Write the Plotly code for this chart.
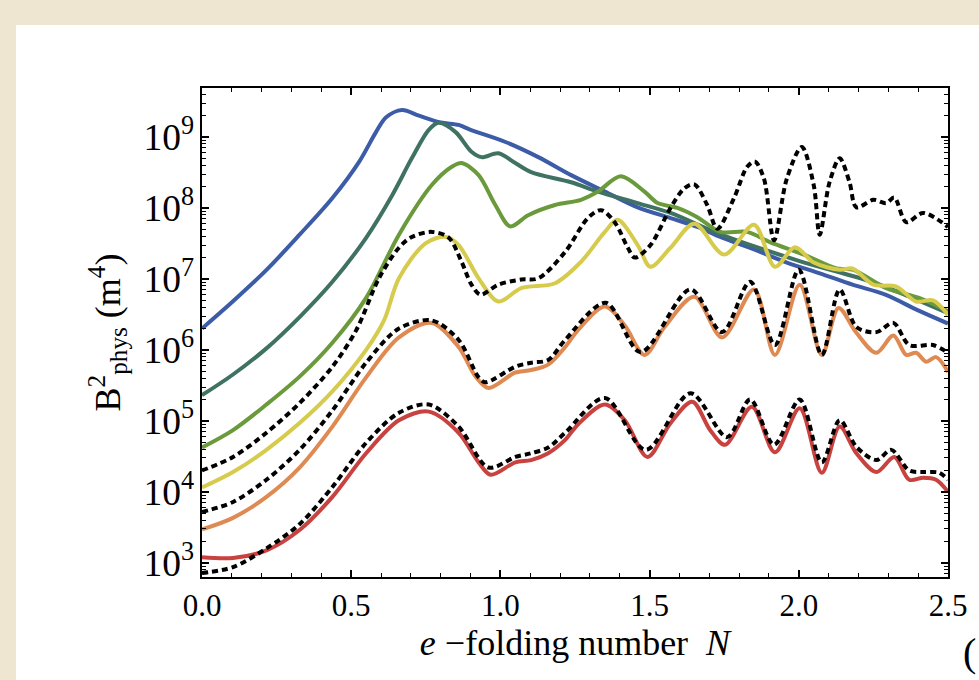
import plotly.graph_objects as go

# ---------------- data ----------------
blue_N = [0, 0.103, 0.217, 0.327, 0.437, 0.527, 0.583, 0.617, 0.67, 0.727, 0.80, 0.86, 0.90, 1.017,
          1.127, 1.237, 1.35, 1.46, 1.57, 1.66, 1.737, 1.85, 1.96, 2.07, 2.18, 2.29, 2.40, 2.5]
blue_B = [2.0e6, 4.8e6, 1.35e7, 4.2e7, 1.38e8, 4.5e8, 1.17e9, 1.9e9, 2.4e9, 2.0e9, 1.6e9, 1.48e9, 1.26e9, 8.5e8,
          5.2e8, 2.9e8, 1.7e8, 1.02e8, 7.2e7, 5.4e7, 3.9e7, 2.6e7, 1.7e7, 1.2e7, 8.3e6, 6.0e6, 3.6e6, 2.35e6]

teal_N = [0, 0.104, 0.216, 0.327, 0.437, 0.55, 0.637, 0.703, 0.76, 0.793, 0.85, 0.903, 0.937, 0.993,
          1.05, 1.103, 1.237, 1.327, 1.46, 1.57, 1.74, 2.0, 2.25, 2.5]
teal_B = [2.3e5, 4.5e5, 1.05e6, 2.9e6, 9.1e6, 3.8e7, 1.5e8, 5.0e8, 1.26e9, 1.58e9, 1.17e9, 6.2e8, 5.2e8, 5.9e8,
          4.3e8, 3.2e8, 2.3e8, 1.7e8, 1.17e8, 8.5e7, 4.2e7, 1.8e7, 8.9e6, 3.3e6]

green_N = [0, 0.104, 0.216, 0.327, 0.437, 0.55, 0.66, 0.77, 0.837, 0.87, 0.927, 0.983, 1.033, 1.093,
           1.183, 1.27, 1.327, 1.403, 1.483, 1.527, 1.593, 1.66, 1.737, 1.827, 1.903, 2.017, 2.127,
           2.18, 2.293, 2.403, 2.5]
green_B = [4.2e4, 7.4e4, 1.7e5, 4.2e5, 1.26e6, 5.4e6, 4.2e7, 2.1e8, 3.8e8, 4.3e8, 2.9e8, 1.1e8, 5.5e7, 7.9e7,
           1.1e8, 1.3e8, 1.7e8, 2.8e8, 1.7e8, 1.17e8, 1.0e8, 7.4e7, 4.6e7, 4.6e7, 3.3e7, 2.2e7, 1.4e7,
           1.35e7, 7.4e6, 5.4e6, 3.5e6]

yellow_N = [0, 0.104, 0.216, 0.327, 0.437, 0.55, 0.61, 0.66, 0.75, 0.817, 0.86, 0.927, 0.993, 1.07,
            1.183, 1.27, 1.35, 1.393, 1.46, 1.503, 1.57, 1.65, 1.75, 1.85, 1.92, 1.987, 2.05, 2.137,
            2.18, 2.25, 2.327, 2.393, 2.45, 2.5]
yellow_B = [1.15e4, 1.9e4, 3.9e4, 9.3e4, 2.6e5, 1.0e6, 2.6e6, 1.02e7, 3.2e7, 3.9e7, 3.0e7, 1.02e7, 4.8e6, 7.4e6,
            8.7e6, 1.74e7, 4.6e7, 6.8e7, 3.0e7, 1.48e7, 2.75e7, 6.0e7, 2.2e7, 5.8e7, 1.48e7, 2.8e7, 1.7e7, 1.35e7,
            1.4e7, 8.3e6, 7.8e6, 4.8e6, 5.0e6, 3.1e6]

dot1_N = [0, 0.104, 0.216, 0.327, 0.437, 0.517, 0.593, 0.66, 0.703, 0.77, 0.827, 0.87, 0.903, 0.933,
          0.993, 1.07, 1.127, 1.217, 1.293, 1.337, 1.383, 1.427, 1.45, 1.503, 1.57, 1.617, 1.65, 1.693,
          1.727, 1.783, 1.827, 1.853, 1.883, 1.917, 1.96, 2.01, 2.05, 2.07, 2.103, 2.137, 2.17, 2.193,
          2.25, 2.293, 2.32, 2.36, 2.417, 2.5]
dot1_B = [2.0e4, 3.1e4, 6.8e4, 1.78e5, 5.8e5, 1.9e6, 1.02e7, 2.75e7, 3.9e7, 4.6e7, 3.8e7, 1.74e7, 8.3e6, 6.0e6,
          8.3e6, 9.8e6, 1.02e7, 2.4e7, 7.2e7, 9.3e7, 6.3e7, 2.75e7, 2.0e7, 3.0e7, 1.0e8, 1.9e8, 2.15e8, 1.1e8,
          5.1e7, 1.38e8, 3.8e8, 4.5e8, 2.6e8, 3.5e7, 2.6e8, 7.2e8, 2.1e8, 4.2e7, 2.3e8, 5.0e8, 2.3e8, 1.02e8,
          1.3e8, 1.17e8, 1.4e8, 6.3e7, 8.5e7, 5.4e7]

orange_N = [0, 0.104, 0.216, 0.327, 0.437, 0.55, 0.66, 0.77, 0.86, 0.917, 0.96, 1.05, 1.103, 1.16,
            1.217, 1.26, 1.35, 1.417, 1.483, 1.55, 1.65, 1.743, 1.85, 1.92, 2.003, 2.077, 2.133, 2.193,
            2.26, 2.317, 2.36, 2.393, 2.427, 2.46, 2.5]
orange_B = [2.95e3, 4.3e3, 8.5e3, 2.2e4, 8.3e4, 4.1e5, 1.5e6, 2.4e6, 1.1e6, 4.2e5, 2.9e5, 4.8e5, 5.2e5, 6.2e5,
            1.1e6, 1.9e6, 4.1e6, 2.2e6, 8.5e5, 2.1e6, 5.6e6, 1.5e6, 7.1e6, 8.5e5, 8.3e6, 8.5e5, 3.9e6, 1.74e6,
            9.1e5, 1.6e6, 8.5e5, 9.1e5, 6.8e5, 7.9e5, 4.9e5]

dot2_N = [0, 0.104, 0.216, 0.327, 0.437, 0.55, 0.66, 0.77, 0.86, 0.927, 0.95, 1.05, 1.103, 1.16,
          1.217, 1.353, 1.47, 1.637, 1.743, 1.837, 1.92, 2.0, 2.077, 2.137, 2.193, 2.26, 2.317, 2.37,
          2.45, 2.5]
dot2_B = [5.2e3, 7.2e3, 1.48e4, 3.9e4, 1.4e5, 6.6e5, 2.0e6, 2.6e6, 1.38e6, 4.1e5, 3.5e5, 5.8e5, 6.6e5, 7.2e5,
          1.38e6, 4.6e6, 9.3e5, 7.1e6, 1.78e6, 9.1e6, 1.17e6, 1.35e7, 8.5e5, 7.1e6, 2.1e6, 1.78e6, 2.4e6, 1.17e6,
          1.17e6, 9.1e5]

red_N = [0, 0.104, 0.216, 0.327, 0.437, 0.55, 0.66, 0.76, 0.86, 0.927, 0.967, 1.05, 1.103, 1.16,
         1.217, 1.26, 1.35, 1.417, 1.493, 1.57, 1.643, 1.703, 1.753, 1.843, 1.92, 2.003, 2.077, 2.137,
         2.193, 2.26, 2.32, 2.37, 2.417, 2.46, 2.5]
red_B = [1.2e3, 1.17e3, 1.5e3, 2.9e3, 8.5e3, 3.5e4, 1.02e5, 1.35e5, 6.8e4, 2.6e4, 1.74e4, 2.6e4, 2.8e4, 3.5e4,
         5.4e4, 8.9e4, 1.7e5, 1.02e5, 3.1e4, 9.3e4, 1.86e5, 7.4e4, 4.6e4, 1.58e5, 3.6e4, 1.5e5, 1.86e4, 8.3e4,
         3.5e4, 1.9e4, 3.1e4, 1.48e4, 1.58e4, 1.48e4, 1.0e4]

dot3_N = [0, 0.104, 0.216, 0.327, 0.437, 0.55, 0.66, 0.76, 0.86, 0.96, 1.05, 1.103, 1.16, 1.217,
          1.35, 1.487, 1.637, 1.76, 1.837, 1.917, 2.003, 2.077, 2.137, 2.193, 2.26, 2.31, 2.37, 2.417,
          2.47, 2.5]
dot3_B = [7.2e2, 8.7e2, 1.6e3, 3.5e3, 1.17e4, 4.9e4, 1.3e5, 1.7e5, 8.3e4, 2.2e4, 3.1e4, 3.5e4, 4.2e4, 6.8e4,
          2.1e5, 3.9e4, 2.45e5, 5.9e4, 2.0e5, 4.6e4, 2.0e5, 2.6e4, 1.02e5, 4.3e4, 2.8e4, 3.9e4, 2.0e4, 1.9e4,
          1.86e4, 1.48e4]

x_ticks = [0.0, 0.5, 1.0, 1.5, 2.0, 2.5]
x_tick_labels = ["0.0", "0.5", "1.0", "1.5", "2.0", "2.5"]

# ---------------- figure ----------------
FONT = "Liberation Serif"
fig = go.Figure()

solid = [
    (blue_N, blue_B, "#3d5ca8"),
    (teal_N, teal_B, "#3f7263"),
    (green_N, green_B, "#6a9a3b"),
    (yellow_N, yellow_B, "#d6cb4c"),
    (orange_N, orange_B, "#de8a52"),
    (red_N, red_B, "#c8423f"),
]
for xs, ys, col in solid:
    fig.add_trace(go.Scatter(x=xs, y=ys, mode="lines",
                             line=dict(color=col, width=4, shape="spline", smoothing=0.9),
                             showlegend=False, hoverinfo="skip"))

for xs, ys in [(dot1_N, dot1_B), (dot2_N, dot2_B), (dot3_N, dot3_B)]:
    fig.add_trace(go.Scatter(x=xs, y=ys, mode="lines",
                             line=dict(color="black", width=4, dash="6px,4px", shape="spline", smoothing=0.9),
                             showlegend=False, hoverinfo="skip"))

# white panel on the beige page
fig.add_shape(type="rect", xref="paper", yref="paper",
              x0=-0.2493, x1=1.2, y0=-0.4, y1=1.1288,
              fillcolor="white", line=dict(width=0), layer="below")

fig.add_annotation(text="(", xref="paper", yref="paper", x=1.0175, y=-0.155,
                   xanchor="left", yanchor="middle", showarrow=False,
                   font=dict(family=FONT, size=40, color="black"))

fig.update_layout(
    width=979, height=680,
    margin=dict(l=202, r=27, t=88, b=103),
    paper_bgcolor="#efe6d1",
    plot_bgcolor="white",
    font=dict(family=FONT, size=30, color="black"),
    xaxis=dict(
        range=[0, 2.5], tickvals=x_ticks, ticktext=x_tick_labels,
        ticks="inside", ticklen=7, tickwidth=1.5, tickcolor="black",
        minor=dict(ticks="inside", ticklen=4, tickwidth=1.2, tickcolor="black", dtick=0.1),
        showline=True, linecolor="black", linewidth=2, mirror="allticks",
        showgrid=False, zeroline=False,
        tickfont=dict(family=FONT, size=31),
        title=dict(text="<i>e</i> \u2212folding number  <i>N</i>", font=dict(family=FONT, size=36), standoff=4),
    ),
    yaxis=dict(
        type="log", range=[2.80, 9.69], dtick=1,
        exponentformat="power", showexponent="all",
        ticks="inside", ticklen=7, tickwidth=1.5, tickcolor="black",
        minor=dict(ticks="inside", ticklen=4, tickwidth=1.2, tickcolor="black"),
        showline=True, linecolor="black", linewidth=2, mirror="allticks",
        showgrid=False, zeroline=False,
        tickfont=dict(family=FONT, size=30),
        title=dict(text="B<sup>2</sup><sub>phys</sub> (m<sup>4</sup>)", font=dict(family=FONT, size=36), standoff=12),
    ),
)

fig.write_html("out.html", config={"displayModeBar": False},
               post_script="document.body.style.margin='0';document.body.style.overflow='hidden';")
